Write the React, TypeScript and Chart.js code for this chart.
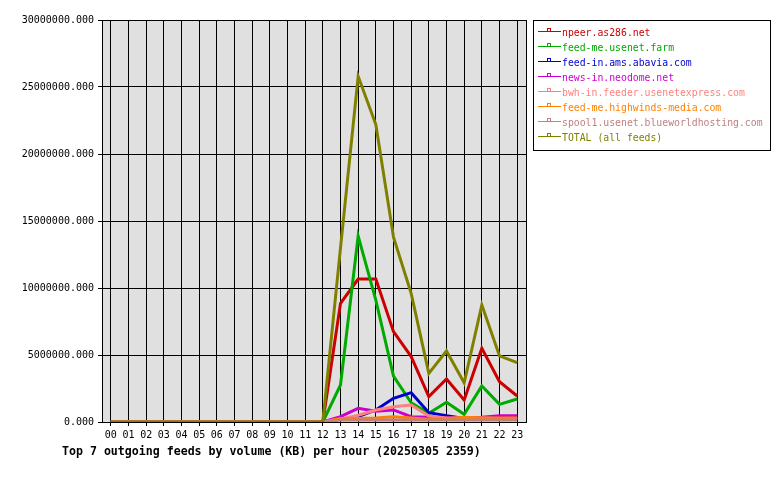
import React, { useEffect, useRef } from "react";
import { Chart, registerables } from "chart.js";

Chart.register(...registerables);

const hours = ["00","01","02","03","04","05","06","07","08","09","10","11","12","13","14","15","16","17","18","19","20","21","22","23"];

const seriesNames = [
  "npeer.as286.net",
  "feed-me.usenet.farm",
  "feed-in.ams.abavia.com",
  "news-in.neodome.net",
  "bwh-in.feeder.usenetexpress.com",
  "feed-me.highwinds-media.com",
  "spool1.usenet.blueworldhosting.com",
  "TOTAL (all feeds)",
];

const seriesColors = ["#cc0000", "#00aa00", "#0000cc", "#cc00cc", "#ff8080", "#ff8000", "#c08080", "#808000"];

// values in KB
const npeer = [0,0,0,0,0,0,0,0,0,0,0,0,0,8860000,10670000,10670000,6740000,4880000,1890000,3210000,1640000,5500000,3010000,1940000];
const usenetFarm = [0,0,0,0,0,0,0,0,0,0,0,0,0,2760000,13880000,9100000,3430000,1440000,650000,1470000,570000,2690000,1320000,1720000];
const abavia = [0,0,0,0,0,0,0,0,0,0,0,0,0,200000,400000,900000,1770000,2190000,700000,470000,270000,250000,220000,350000];
const neodome = [0,0,0,0,0,0,0,0,0,0,0,0,0,400000,1020000,800000,900000,400000,350000,300000,300000,350000,470000,470000];
const usenetexpress = [0,0,0,0,0,0,0,0,0,0,0,0,0,200000,500000,900000,1140000,1270000,450000,300000,300000,300000,270000,270000];
const highwinds = [0,0,0,0,0,0,0,0,0,0,0,0,0,270000,270000,300000,400000,300000,200000,250000,350000,300000,300000,300000];
const blueworld = [0,0,0,0,0,0,0,0,0,0,0,0,0,150000,150000,150000,150000,150000,150000,150000,150000,150000,150000,150000];
const total = [0,0,0,0,0,0,0,0,0,0,0,0,0,13000000,25800000,22200000,13800000,9600000,3630000,5300000,2930000,8730000,4930000,4430000];

const seriesValues = [npeer, usenetFarm, abavia, neodome, usenetexpress, highwinds, blueworld, total];

const yTicks = [0, 5000000, 10000000, 15000000, 20000000, 25000000, 30000000];

const titleText = "Top 7 outgoing feeds by volume (KB) per hour (20250305 2359)";
const MONO = "'DejaVu Sans Mono', 'Liberation Mono', monospace";

const decorPlugin = {
  id: "decor",
  beforeDraw(chart: any) {
    const { ctx, chartArea } = chart;
    ctx.save();
    ctx.fillStyle = "#ffffff";
    ctx.fillRect(0, 0, chart.width, chart.height);
    ctx.fillStyle = "#e0e0e0";
    ctx.fillRect(chartArea.left, chartArea.top, chartArea.right - chartArea.left, chartArea.bottom - chartArea.top);
    ctx.restore();
  },
  beforeDatasetsDraw(chart: any) {
    const { ctx, chartArea } = chart;
    ctx.save();
    ctx.strokeStyle = "#000";
    ctx.lineWidth = 1;
    ctx.strokeRect(Math.round(chartArea.left) + 0.5, Math.round(chartArea.top) + 0.5,
      Math.round(chartArea.right - chartArea.left), Math.round(chartArea.bottom - chartArea.top));
    ctx.restore();
  },
  afterDraw(chart: any) {
    const { ctx } = chart;
    ctx.save();
    // title
    ctx.fillStyle = "#000";
    ctx.font = "bold 11.6px " + MONO;
    ctx.textBaseline = "middle";
    ctx.textAlign = "left";
    ctx.fillText(titleText, 62, 452);
    // legend box
    const bx = 533, by = 20, bw = 237, bh = 130;
    ctx.fillStyle = "#ffffff";
    ctx.fillRect(bx, by, bw, bh);
    ctx.strokeStyle = "#000";
    ctx.lineWidth = 1;
    ctx.strokeRect(bx + 0.5, by + 0.5, bw, bh);
    ctx.font = "9.8px " + MONO;
    seriesNames.forEach((name, i) => {
      const y = 33 + i * 15;
      const col = seriesColors[i];
      ctx.strokeStyle = col;
      ctx.lineWidth = 1;
      ctx.beginPath();
      ctx.moveTo(538, y - 1.5);
      ctx.lineTo(561, y - 1.5);
      ctx.stroke();
      ctx.strokeRect(547.5, y - 4.5, 3, 3);
      ctx.fillStyle = col;
      ctx.fillText(name, 562, y);
    });
    ctx.restore();
  },
};

export default function App() {
  const ref = useRef<HTMLCanvasElement | null>(null);
  useEffect(() => {
    if (!ref.current) return;
    const datasets = seriesNames.map((name, i) => ({
      label: name,
      data: seriesValues[i],
      borderColor: seriesColors[i],
      backgroundColor: seriesColors[i],
      borderWidth: 3,
      pointRadius: 0,
      tension: 0,
      fill: false,
      order: seriesNames.length - i,
    }));
    const chart = new Chart(ref.current, {
      type: "line",
      data: { labels: hours, datasets },
      plugins: [decorPlugin],
      options: {
        animation: false,
        responsive: false,
        devicePixelRatio: 1,
        layout: { padding: { left: 0, top: 20, right: 254, bottom: 0 } },
        plugins: { legend: { display: false }, tooltip: { enabled: false }, title: { display: false } },
        scales: {
          x: {
            type: "category",
            offset: true,
            grid: { offset: false, color: "#000", lineWidth: 1, drawTicks: true, tickLength: 4, tickColor: "#000" },
            border: { display: true, color: "#000" },
            ticks: { color: "#000", font: { family: MONO, size: 10 }, padding: 3, maxRotation: 0, autoSkip: false },
            afterFit: (s: any) => { s.height = 58; },
          },
          y: {
            min: 0,
            max: 30000000,
            afterBuildTicks: (s: any) => { s.ticks = yTicks.map((v) => ({ value: v })); },
            grid: { color: "#000", lineWidth: 1, drawTicks: true, tickLength: 4, tickColor: "#000" },
            border: { display: true, color: "#000" },
            ticks: {
              color: "#000",
              font: { family: MONO, size: 10 },
              padding: 4,
              callback: (v: any) => Number(v).toFixed(3),
            },
            afterFit: (s: any) => { s.width = 102; },
          },
        },
      },
    } as any);
    return () => chart.destroy();
  }, []);
  return (
    <div style={{ position: "absolute", left: 0, top: 0, width: 780, height: 480, background: "#fff" }}>
      <canvas ref={ref} width={780} height={480} style={{ width: 780, height: 480, display: "block" }} />
    </div>
  );
}
